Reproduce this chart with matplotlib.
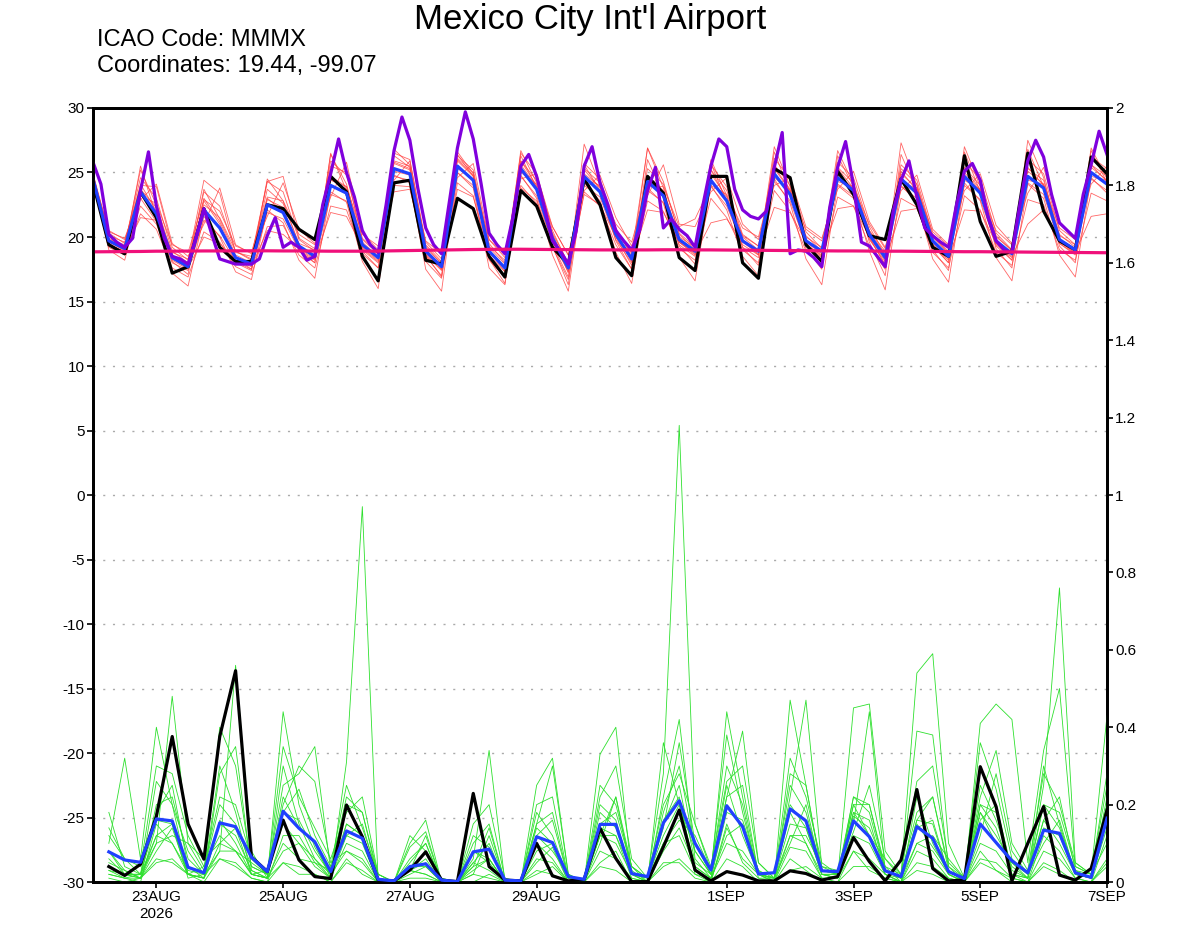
"""
Mexico City ensemble meteogram: temperature (left axis) and precipitation (right axis)
"""
import matplotlib
matplotlib.use('Agg')
import matplotlib.pyplot as plt
import numpy as np

plt.rcParams['font.family'] = ['Liberation Sans', 'DejaVu Sans']
plt.rcParams['axes.unicode_minus'] = False

# time axis (hours from 22AUG 00Z)
hours_6h = np.arange(0, 385, 6)       # 65 steps, temperature
hours_3h = np.arange(0, 385, 3)       # 129 steps, deterministic run
hours_pr = np.arange(6, 385, 6)       # 64 steps, precipitation

tick_hours = [24, 72, 120, 168, 240, 288, 336, 384]
tick_labels = ['23AUG\n2026', '25AUG', '27AUG', '29AUG', '1SEP', '3SEP', '5SEP', '7SEP']

# 2 m temperature, control (black)
t_control = [24.2, 19.4, 18.7, 23.5, 21.5, 17.2, 17.7, 22.2, 19.2, 18.1, 18.1, 22.5, 22.2,
             20.6, 19.8, 24.7, 23.5, 18.5, 16.6, 24.2, 24.4, 18.2, 17.9, 23.0, 22.2, 18.5,
             16.9, 23.6, 22.4, 19.2, 17.9, 24.5, 22.5, 18.4, 17.0, 24.7, 23.4, 18.4, 17.4,
             24.7, 24.7, 18.0, 16.8, 25.3, 24.6, 19.4, 18.1, 25.1, 23.3, 20.1, 19.8, 24.5,
             22.5, 19.2, 18.5, 26.3, 21.2, 18.5, 18.9, 26.5, 22.0, 19.7, 19.0, 26.2, 24.9]
# ensemble mean (blue)
t_mean = [24.5, 19.7, 19.1, 23.5, 21.8, 18.4, 17.7, 22.1, 20.7, 18.4, 17.9, 22.5, 21.9,
          19.3, 18.5, 24.0, 23.4, 19.4, 18.4, 25.3, 24.9, 18.9, 17.7, 25.5, 24.4, 18.9,
          17.6, 25.3, 23.7, 19.9, 17.6, 24.7, 23.5, 20.2, 18.3, 24.3, 23.2, 19.8, 18.9,
          24.4, 22.8, 19.7, 18.9, 24.9, 23.3, 19.7, 18.9, 24.6, 23.6, 20.2, 18.4, 24.5,
          23.4, 19.7, 18.5, 24.7, 23.4, 19.7, 18.7, 24.7, 23.8, 19.8, 19.0, 25.0, 24.1]
# deterministic 3-hourly run (purple)
t_det = [25.8, 24.1, 20.2, 19.6, 19.2, 19.9, 23.6, 26.6, 22.4, 19.9, 18.5, 18.3, 17.9,
         19.9, 22.2, 20.2, 18.3, 18.1, 17.9, 17.9, 17.9, 18.3, 20.1, 21.5, 19.2, 19.6,
         19.2, 18.2, 18.5, 22.5, 24.9, 27.6, 25.0,
         23.1, 20.5, 19.4, 18.8, 22.5, 26.7, 29.3, 27.5, 23.8, 20.7, 19.4, 18.7, 22.8,
         26.9, 29.7, 27.6, 24.1, 20.3, 19.4, 18.7, 21.5, 25.5, 26.4, 24.7, 22.3, 19.7,
         18.9, 17.9, 20.5, 25.5, 27.0, 24.2,
         22.5, 20.5, 19.7, 19.0, 20.5, 23.6, 25.4, 20.7, 21.4, 20.6, 20.1, 19.2, 22.5,
         25.5, 27.6, 27.0, 23.7, 22.1, 21.6, 21.4, 22.0, 25.4, 28.1, 18.7, 19.0, 18.9,
         18.4, 17.7, 22.3, 25.4, 27.4, 24.0,
         19.6, 19.3, 18.5, 17.7, 22.0, 24.4, 25.9, 23.1, 20.7, 20.1, 19.6, 19.2, 22.5,
         25.1, 25.7, 24.4, 21.5, 19.7, 19.0, 18.8, 22.5, 25.9, 27.5, 26.2, 23.3, 21.1,
         20.5, 19.9, 23.3, 25.6, 28.2, 26.4]
# climatology (pink)
t_clim = [18.85, 18.86, 18.87, 18.88, 18.9, 18.9, 18.91, 18.92, 18.92, 18.93,
          18.93, 18.93, 18.92, 18.92, 18.91, 18.9, 18.9, 18.9, 18.91, 18.93,
          18.95, 18.97, 18.99, 19.01, 19.03, 19.04, 19.05, 19.05, 19.04, 19.03,
          19.02, 19.01, 19.0, 19.0, 19.0, 19.0, 19.01, 19.01, 19.0, 19.0,
          18.99, 18.98, 18.97, 18.96, 18.95, 18.94, 18.93, 18.92, 18.92, 18.91,
          18.9, 18.9, 18.89, 18.88, 18.87, 18.86, 18.86, 18.85, 18.84, 18.83,
          18.82, 18.81, 18.8, 18.79, 18.78]

# ensemble members, temperature (red)
t_m01 = [24.8, 20.3, 19.5, 24.6, 23.0, 18.9, 18.0, 23.5, 22.4, 18.9, 18.2, 24.3, 23.5, 19.8, 18.9, 25.9, 24.8,
         19.9, 18.8, 26.5, 26.0, 19.3, 17.9, 26.3, 25.2, 19.5, 18.0, 26.5, 24.9, 20.5, 17.9, 25.7, 24.5,
         20.7, 18.5, 25.3, 24.1, 20.3, 19.2, 25.6, 23.9, 20.2, 19.3, 26.1, 24.5, 20.4, 19.1, 25.8, 24.6,
         20.8, 18.6, 25.6, 24.4, 20.2, 18.7, 25.8, 24.5, 20.3, 19.0, 26.0, 24.9, 20.5, 19.4, 26.2, 25.3]
t_m02 = [24.2, 19.2, 18.6, 21.8, 20.6, 17.6, 16.9, 20.4, 19.6, 17.7, 17.1, 20.8, 20.9, 18.6, 17.6, 22.4, 22.1,
         18.7, 17.6, 24.0, 23.9, 18.1, 16.8, 24.2, 23.2, 18.2, 16.9, 24.0, 22.6, 19.2, 16.7, 23.5, 22.4,
         19.4, 17.5, 22.8, 22.0, 19.1, 18.2, 23.0, 21.5, 19.0, 18.0, 23.6, 22.0, 18.9, 17.9, 23.1, 22.4,
         19.3, 17.5, 23.0, 22.3, 18.8, 17.6, 23.2, 22.1, 18.8, 17.8, 22.9, 22.5, 19.0, 18.2, 23.4, 22.8]
t_m03 = [24.6, 20.5, 19.8, 22.9, 24.1, 19.5, 18.5, 21.0, 23.8, 19.4, 18.7, 21.6, 24.2, 20.6, 19.5, 23.1, 25.8,
         20.3, 19.0, 24.4, 25.9, 19.6, 18.3, 24.6, 25.7, 19.8, 18.4, 24.5, 24.9, 20.8, 18.6, 23.6, 24.8,
         21.5, 19.3, 23.2, 25.6, 21.0, 20.8, 23.5, 24.6, 21.0, 19.8, 24.0, 24.6, 20.8, 19.9, 23.7, 25.1,
         21.2, 19.2, 23.6, 24.8, 20.6, 19.4, 23.6, 24.9, 20.9, 19.5, 23.4, 25.4, 21.1, 19.8, 24.1, 25.5]
t_m04 = [24.9, 19.9, 19.3, 25.2, 22.5, 18.6, 17.9, 23.7, 21.4, 18.6, 18.0, 24.5, 22.8, 19.4, 18.3, 26.4, 24.1,
         19.6, 18.5, 26.8, 25.6, 18.9, 17.5, 26.6, 24.9, 18.9, 17.3, 26.7, 24.2, 20.1, 17.2, 27.2, 24.0,
         20.3, 18.1, 26.9, 23.8, 19.6, 18.8, 26.0, 23.2, 19.8, 18.6, 27.0, 23.9, 19.5, 18.5, 26.7, 24.1,
         20.0, 17.8, 27.3, 24.0, 19.4, 18.0, 27.0, 23.9, 19.6, 18.2, 27.5, 24.6, 19.7, 18.7, 26.9, 24.5]
t_m05 = [24.3, 19.0, 18.2, 23.0, 21.2, 17.2, 16.2, 21.6, 20.0, 17.3, 16.7, 22.1, 21.1, 18.2, 16.8, 23.5, 22.7,
         18.1, 16.0, 24.8, 24.2, 17.5, 15.8, 25.0, 23.8, 17.6, 16.3, 24.8, 23.0, 18.6, 15.8, 24.2, 22.8,
         18.8, 16.4, 23.8, 22.6, 18.4, 16.6, 24.0, 22.1, 18.5, 17.0, 24.5, 22.6, 18.3, 16.3, 24.0, 23.0,
         18.9, 15.9, 24.0, 22.7, 18.3, 16.5, 24.2, 22.8, 18.4, 16.6, 24.1, 23.0, 18.6, 16.9, 24.6, 23.4]
t_m06 = [24.5, 19.8, 19.4, 24.1, 22.0, 18.8, 18.3, 22.5, 21.5, 18.9, 18.3, 23.7, 22.6, 19.5, 19.0, 24.7, 23.9,
         19.2, 18.7, 25.7, 25.2, 19.1, 18.0, 25.9, 24.7, 19.2, 17.9, 25.6, 23.9, 20.2, 17.7, 24.9, 23.9,
         20.4, 18.8, 24.7, 23.6, 20.0, 19.2, 24.9, 23.1, 20.1, 19.3, 25.3, 23.6, 20.0, 19.2, 24.8, 23.8,
         20.5, 18.9, 24.9, 23.8, 20.0, 18.9, 25.0, 23.6, 20.0, 19.0, 25.1, 24.1, 20.1, 19.4, 25.4, 24.4]
t_m07 = [24.0, 19.4, 18.9, 22.4, 21.0, 18.0, 17.4, 21.3, 20.1, 18.1, 17.5, 21.9, 21.4, 19.0, 18.0, 23.3, 22.8,
         19.0, 18.0, 24.7, 24.4, 18.6, 17.4, 25.0, 24.0, 18.6, 17.3, 24.7, 23.2, 19.6, 17.3, 24.0, 23.1,
         19.8, 18.0, 23.6, 22.7, 19.4, 18.5, 23.9, 22.4, 19.4, 18.6, 24.3, 22.8, 19.4, 18.6, 24.1, 23.2,
         19.8, 18.1, 23.9, 23.0, 19.3, 18.2, 24.0, 22.9, 19.4, 18.4, 24.2, 23.3, 19.5, 18.7, 24.5, 23.6]
t_m08 = [24.7, 20.1, 19.6, 24.0, 23.9, 19.2, 18.2, 24.4, 23.4, 18.8, 18.5, 24.3, 24.7, 19.9, 19.1, 25.5, 25.0,
         19.8, 18.7, 25.9, 25.5, 19.4, 18.1, 26.1, 25.0, 19.3, 18.2, 25.9, 24.4, 20.3, 18.0, 25.3, 24.2,
         20.6, 18.7, 26.9, 24.3, 20.2, 19.0, 25.2, 23.6, 20.0, 19.0, 25.6, 24.0, 20.1, 18.9, 25.4, 24.2,
         20.5, 18.6, 25.3, 24.1, 20.0, 18.7, 25.4, 24.0, 20.1, 18.9, 25.3, 24.4, 20.2, 19.2, 25.6, 24.7]
t_m09 = [24.4, 19.6, 19.0, 21.5, 21.3, 18.3, 17.6, 20.0, 19.5, 18.2, 17.7, 20.5, 20.2, 19.1, 18.3, 21.9, 21.6,
         19.2, 18.2, 23.5, 23.7, 18.7, 17.5, 23.7, 23.1, 18.8, 17.5, 23.8, 22.8, 19.7, 17.4, 23.3, 22.5,
         20.0, 18.2, 22.1, 21.9, 19.6, 18.7, 21.1, 21.4, 19.6, 18.7, 22.3, 21.9, 19.6, 18.7, 22.2, 22.4,
         20.0, 18.2, 22.0, 22.2, 19.5, 18.3, 22.1, 22.0, 19.5, 18.5, 21.0, 22.1, 19.6, 18.8, 21.6, 21.8]
t_m10 = [24.6, 19.5, 18.8, 23.7, 22.3, 18.2, 17.5, 22.8, 21.0, 18.0, 17.4, 23.0, 22.0, 19.0, 18.2, 24.5, 23.7,
         19.1, 18.1, 25.8, 25.3, 18.5, 17.0, 26.0, 24.8, 18.4, 16.8, 25.9, 24.0, 19.4, 16.9, 25.2, 23.8,
         20.0, 17.8, 24.8, 23.4, 19.6, 18.6, 25.2, 22.9, 19.2, 18.4, 25.4, 23.7, 19.4, 18.4, 25.3, 23.8,
         19.9, 17.9, 25.1, 23.6, 19.3, 18.0, 25.3, 23.7, 19.3, 18.2, 25.4, 24.0, 19.5, 18.6, 25.6, 24.3]
t_m11 = [24.9, 20.4, 19.9, 23.2, 22.6, 19.4, 18.8, 22.9, 22.0, 19.3, 18.8, 23.1, 22.8, 20.2, 19.4, 24.4, 23.9,
         20.2, 19.3, 25.1, 24.8, 19.7, 18.7, 25.3, 24.5, 19.8, 18.6, 25.0, 24.1, 20.8, 18.6, 24.5, 24.0,
         21.0, 19.6, 24.0, 23.9, 20.8, 21.4, 24.0, 23.3, 20.7, 20.0, 24.6, 23.6, 20.6, 19.7, 24.3, 23.9,
         21.0, 19.1, 24.2, 23.8, 20.4, 19.3, 24.4, 23.7, 20.5, 19.4, 24.4, 24.1, 20.7, 19.8, 24.7, 24.4]
t_m12 = [24.3, 19.7, 18.9, 25.5, 21.6, 18.1, 17.1, 23.0, 21.2, 18.4, 17.5, 22.9, 22.3, 18.9, 18.0, 26.5, 23.6,
         18.9, 17.6, 26.3, 25.4, 18.6, 16.9, 26.4, 24.7, 18.3, 16.4, 26.3, 23.8, 19.3, 16.3, 25.6, 23.6,
         19.7, 17.5, 26.0, 23.3, 19.3, 17.9, 25.7, 22.7, 19.2, 17.8, 26.6, 23.4, 19.1, 17.5, 26.3, 23.9,
         19.6, 17.0, 26.4, 23.6, 19.0, 17.4, 26.6, 23.5, 19.1, 17.6, 26.8, 23.9, 19.3, 18.0, 26.7, 24.2]
temp_members = [t_m01, t_m02, t_m03, t_m04, t_m05, t_m06, t_m07, t_m08, t_m09, t_m10, t_m11, t_m12]

# 6-hourly precipitation, control (black) and ensemble mean (blue)
p_control = [0.040, 0.017, 0.046, 0.170, 0.376, 0.150, 0.059, 0.376, 0.546, 0.065, 0.027, 0.160,
             0.057, 0.014, 0.009, 0.199, 0.117, 0.005, 0.003, 0.031, 0.078, 0.005, 0.001, 0.229,
             0.040, 0.005, 0.003, 0.100, 0.016, 0.003, 0.007, 0.139, 0.061, 0.001, 0.001, 0.091,
             0.186, 0.031, 0.003, 0.027, 0.018, 0.003, 0.003, 0.029, 0.022, 0.005, 0.014, 0.115,
             0.053, 0.003, 0.057, 0.239, 0.035, 0.003, 0.005, 0.298, 0.195, 0.003, 0.100, 0.195,
             0.018, 0.005, 0.035, 0.186]
p_mean = [0.078, 0.057, 0.051, 0.163, 0.158, 0.038, 0.024, 0.153, 0.143, 0.064, 0.027, 0.183,
          0.139, 0.104, 0.027, 0.132, 0.113, 0.007, 0.003, 0.040, 0.047, 0.005, 0.001, 0.078,
          0.085, 0.005, 0.003, 0.117, 0.102, 0.014, 0.007, 0.149, 0.149, 0.022, 0.014, 0.153,
          0.210, 0.100, 0.031, 0.197, 0.143, 0.021, 0.024, 0.189, 0.158, 0.029, 0.027, 0.158,
          0.117, 0.029, 0.014, 0.143, 0.113, 0.027, 0.009, 0.150, 0.102, 0.055, 0.024, 0.134,
          0.126, 0.024, 0.012, 0.165]

# ensemble members, precipitation (green)
p_m01 = [.03, .01, .02, .18, .25, .04, .01, .15, .12, .03, .01, .22, .14, .10, .01, .31,
         .97, .00, .00, .03, .06, .00, .00, .12, .09, .00, .00, .15, .18, .01, .00, .20,
         .16, .02, .01, .12, .20, .08, .02, .25, .12, .02, .01, .20, .14, .02, .02, .18,
         .12, .02, .00, .15, .09, .03, .00, .18, .10, .05, .01, .14, .12, .02, .01, .20]
p_m02 = [.10, .32, .06, .40, .20, .02, .04, .12, .08, .02, .03, .15, .10, .06, .02, .08,
         .06, .00, .00, .02, .04, .00, .00, .05, .03, .00, .00, .10, .06, .00, .00, .15,
         .18, .04, .01, .28, 1.18, .15, .03, .30, .20, .01, .01, .25, .18, .03, .02, .20,
         .20, .03, .01, .16, .15, .02, .00, .25, .16, .04, .01, .20, .14, .03, .01, .18]
p_m03 = [.08, .02, .01, .12, .15, .01, .02, .08, .56, .08, .01, .44, .20, .09, .02, .15,
         .12, .00, .00, .03, .02, .00, .00, .06, .34, .00, .00, .18, .12, .01, .00, .33,
         .40, .02, .00, .36, .20, .04, .01, .12, .15, .03, .00, .47, .25, .03, .02, .18,
         .16, .02, .01, .10, .12, .06, .01, .20, .18, .02, .01, .25, .76, .05, .02, .10]
p_m04 = [.02, .01, .01, .10, .48, .10, .03, .20, .15, .04, .02, .25, .28, .35, .03, .12,
         .15, .01, .00, .05, .10, .00, .00, .08, .05, .00, .00, .08, .10, .01, .00, .12,
         .12, .01, .00, .15, .25, .05, .02, .44, .22, .02, .01, .15, .14, .02, .01, .45,
         .46, .08, .02, .54, .59, .10, .01, .18, .12, .05, .02, .16, .10, .02, .01, .14]
p_m05 = [.04, .02, .02, .12, .10, .03, .02, .40, .30, .04, .02, .18, .16, .08, .02, .20,
         .18, .01, .00, .09, .13, .00, .00, .04, .14, .00, .00, .25, .32, .02, .00, .10,
         .22, .02, .01, .14, .36, .10, .02, .22, .39, .05, .01, .10, .20, .02, .01, .15,
         .44, .03, .01, .39, .38, .04, .00, .41, .46, .42, .05, .34, .50, .04, .02, .43]
p_m06 = [.02, .01, .00, .15, .10, .02, .01, .08, .08, .02, .01, .10, .06, .05, .01, .10,
         .08, .00, .00, .03, .02, .00, .00, .03, .06, .00, .00, .06, .05, .00, .00, .12,
         .10, .02, .00, .08, .14, .04, .01, .10, .08, .02, .00, .12, .10, .01, .01, .08,
         .06, .02, .00, .10, .08, .02, .00, .06, .05, .01, .00, .12, .08, .01, .00, .05]
p_m07 = [.12, .06, .02, .26, .20, .08, .02, .06, .05, .01, .00, .12, .12, .05, .03, .22,
         .18, .02, .00, .12, .08, .01, .00, .15, .20, .01, .00, .12, .08, .02, .00, .14,
         .12, .03, .00, .22, .42, .06, .01, .18, .16, .03, .01, .22, .47, .04, .02, .13,
         .25, .06, .02, .18, .22, .03, .00, .16, .20, .03, .01, .16, .22, .03, .02, .25]
p_m08 = [.18, .04, .02, .16, .15, .02, .01, .28, .35, .03, .01, .05, .02, .02, .00, .05,
         .03, .00, .00, .01, .01, .00, .00, .00, .02, .00, .00, .02, .04, .00, .00, .05,
         .08, .00, .00, .04, .06, .02, .00, .15, .05, .01, .00, .03, .04, .01, .00, .08,
         .03, .01, .00, .05, .04, .01, .00, .08, .03, .01, .00, .05, .03, .00, .00, .04]
p_m09 = [.05, .03, .01, .20, .22, .06, .02, .30, .18, .02, .01, .18, .24, .12, .04, .25,
         .14, .02, .00, .06, .10, .00, .00, .10, .15, .00, .00, .12, .16, .01, .00, .25,
         .20, .04, .00, .18, .30, .08, .02, .22, .25, .02, .00, .28, .25, .02, .02, .20,
         .12, .06, .01, .16, .22, .04, .01, .36, .24, .06, .02, .20, .18, .04, .02, .20]
p_m10 = [.03, .02, .01, .08, .14, .02, .01, .16, .10, .02, .01, .30, .15, .06, .01, .15,
         .12, .01, .00, .03, .05, .00, .00, .08, .06, .00, .00, .14, .10, .00, .00, .18,
         .14, .02, .00, .16, .22, .02, .01, .20, .14, .02, .01, .18, .10, .02, .01, .22,
         .18, .03, .01, .14, .16, .02, .00, .20, .14, .02, .01, .30, .15, .02, .01, .22]
p_m11 = [.06, .02, .02, .10, .12, .10, .06, .10, .08, .05, .02, .20, .30, .26, .05, .08,
         .05, .00, .00, .03, .12, .00, .00, .05, .10, .00, .00, .20, .22, .01, .00, .12,
         .22, .04, .01, .10, .16, .12, .03, .38, .18, .02, .01, .12, .12, .04, .03, .17,
         .14, .04, .00, .22, .10, .02, .00, .12, .28, .08, .02, .10, .16, .02, .01, .18]
p_m12 = [.08, .03, .01, .05, .06, .02, .01, .10, .14, .02, .01, .08, .10, .04, .01, .12,
         .10, .00, .00, .04, .04, .00, .00, .04, .06, .00, .00, .05, .09, .00, .00, .08,
         .06, .01, .00, .10, .12, .03, .00, .14, .06, .02, .00, .09, .08, .01, .01, .12,
         .10, .02, .00, .08, .06, .01, .00, .10, .08, .02, .00, .08, .06, .01, .00, .12]
p_m13 = [.14, .06, .04, .30, .28, .12, .04, .22, .20, .06, .02, .35, .22, .14, .06, .18,
         .22, .02, .00, .10, .16, .00, .00, .02, .12, .00, .00, .15, .30, .02, .00, .22,
         .30, .06, .01, .20, .28, .15, .04, .26, .30, .05, .01, .32, .22, .05, .02, .22,
         .20, .04, .02, .26, .30, .05, .01, .22, .34, .10, .03, .28, .20, .05, .02, .28]
p_m14 = [.01, .00, .01, .06, .05, .02, .00, .06, .04, .01, .00, .05, .04, .02, .00, .06,
         .02, .00, .00, .00, .00, .00, .00, .02, .01, .00, .00, .03, .02, .00, .00, .04,
         .03, .00, .00, .05, .05, .01, .00, .06, .04, .00, .00, .06, .03, .00, .00, .04,
         .04, .01, .00, .03, .02, .00, .00, .05, .03, .00, .00, .04, .02, .00, .00, .06]
precip_members = [p_m01, p_m02, p_m03, p_m04, p_m05, p_m06, p_m07,
                  p_m08, p_m09, p_m10, p_m11, p_m12, p_m13, p_m14]

# 画图
fig = plt.figure(figsize=(12, 9.27), dpi=100)
ax = fig.add_axes([0.0775, 0.0485, 0.845, 0.835])
ax2 = ax.twinx()

for mem in temp_members:
    ax.plot(hours_6h, mem, color='#ff4040', lw=0.6, alpha=0.8, zorder=2)
ax.plot(hours_6h, t_control, color='black', lw=2.3, zorder=4)
ax.plot(hours_6h, t_mean, color='#2040ff', lw=2.3, zorder=5)
ax.plot(hours_3h, t_det, color='#8000dd', lw=2.3, zorder=6)
ax.plot(hours_6h, t_clim, color='#f0107a', lw=2.3, zorder=7)

for mem in precip_members:
    ax2.plot(hours_pr, mem, color='#2ee02e', lw=0.6, zorder=2)
ax2.plot(hours_pr, p_control, color='black', lw=2.3, zorder=4)
ax2.plot(hours_pr, p_mean, color='#2040ff', lw=2.3, zorder=5)

ax.set_xlim(0, 384)
ax.set_ylim(-30, 30)
ax2.set_ylim(0, 2)
ax.set_yticks(np.arange(-30, 31, 5))
ax.set_yticklabels(['%d' % v for v in np.arange(-30, 31, 5)])
ax2.set_yticks(np.arange(0, 2.01, 0.2))
ax2.set_yticklabels(['0', '0.2', '0.4', '0.6', '0.8', '1', '1.2', '1.4', '1.6', '1.8', '2'])
ax.set_xticks(tick_hours)
ax.set_xticklabels(tick_labels)

ax.grid(axis='y', color='#aaaaaa', lw=1, linestyle=(0, (1.5, 5.5)))
ax.set_axisbelow(True)

for a in (ax, ax2):
    for side in ('left', 'right', 'top', 'bottom'):
        a.spines[side].set_linewidth(2)
    a.tick_params(axis='both', direction='out', length=4, width=1.2, labelsize=11, pad=2)

fig.text(0.492, 0.979, "Mexico City Int'l Airport", ha='center', va='center', fontsize=25)
fig.text(0.081, 0.957, 'ICAO Code: MMMX', ha='left', va='center', fontsize=17)
fig.text(0.081, 0.929, 'Coordinates: 19.44, -99.07', ha='left', va='center', fontsize=17)

fig.savefig('out.png', dpi=100)
